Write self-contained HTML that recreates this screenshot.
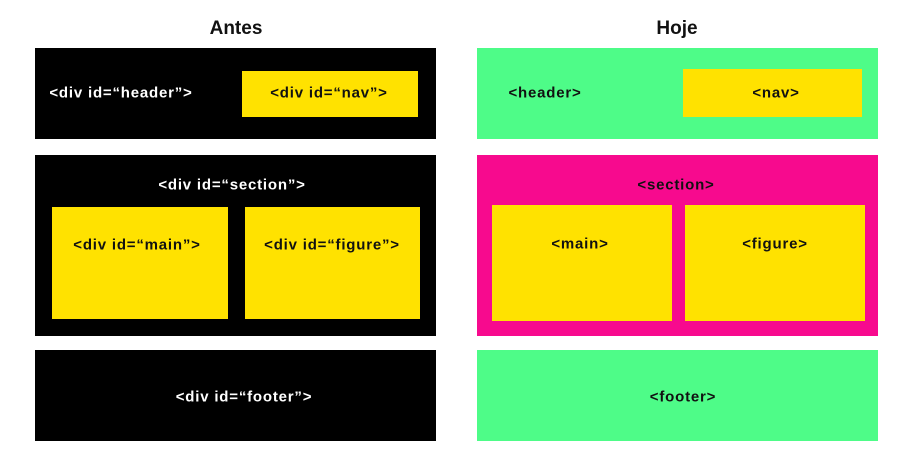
<!DOCTYPE html>
<html><head><style>
body{margin:0;width:908px;height:467px;background:#fff;position:relative;overflow:hidden;font-family:"Liberation Sans",sans-serif;font-weight:bold}
div{position:absolute;box-sizing:border-box}
.t{font-size:15px;letter-spacing:0.8px;white-space:nowrap;transform:translate(-50%,-50%)}
.h{font-size:19px;color:#111;transform:translate(-50%,-50%)}
.k{background:#000}.y{background:#ffe200}.g{background:#4efc88}.p{background:#f70a8e}
.w{color:#fff}.d{color:#111}
</style></head><body>
<div class="h" style="left:236px;top:29px">Antes</div>
<div class="h" style="left:677px;top:29px">Hoje</div>

<div class="k" style="left:35px;top:48px;width:401px;height:91px"></div>
<div class="y" style="left:242px;top:71px;width:176px;height:46px"></div>
<div class="t w" style="left:121px;top:93px">&lt;div id=“header”&gt;</div>
<div class="t d" style="left:329px;top:93px">&lt;div id=“nav”&gt;</div>

<div class="k" style="left:35px;top:155px;width:401px;height:181px"></div>
<div class="t w" style="left:232px;top:185px">&lt;div id=“section”&gt;</div>
<div class="y" style="left:52px;top:207px;width:176px;height:112px"></div>
<div class="y" style="left:245px;top:207px;width:175px;height:112px"></div>
<div class="t d" style="left:137px;top:245px">&lt;div id=“main”&gt;</div>
<div class="t d" style="left:332px;top:245px">&lt;div id=“figure”&gt;</div>

<div class="k" style="left:35px;top:350px;width:401px;height:91px"></div>
<div class="t w" style="left:244px;top:397px">&lt;div id=“footer”&gt;</div>

<div class="g" style="left:477px;top:48px;width:401px;height:91px"></div>
<div class="y" style="left:683px;top:69px;width:179px;height:48px"></div>
<div class="t d" style="left:545px;top:93px">&lt;header&gt;</div>
<div class="t d" style="left:776px;top:93px">&lt;nav&gt;</div>

<div class="p" style="left:477px;top:155px;width:401px;height:181px"></div>
<div class="t d" style="left:676px;top:185px">&lt;section&gt;</div>
<div class="y" style="left:492px;top:205px;width:180px;height:116px"></div>
<div class="y" style="left:685px;top:205px;width:180px;height:116px"></div>
<div class="t d" style="left:580px;top:244px">&lt;main&gt;</div>
<div class="t d" style="left:775px;top:244px">&lt;figure&gt;</div>

<div class="g" style="left:477px;top:350px;width:401px;height:91px"></div>
<div class="t d" style="left:683px;top:397px">&lt;footer&gt;</div>
</body></html>
